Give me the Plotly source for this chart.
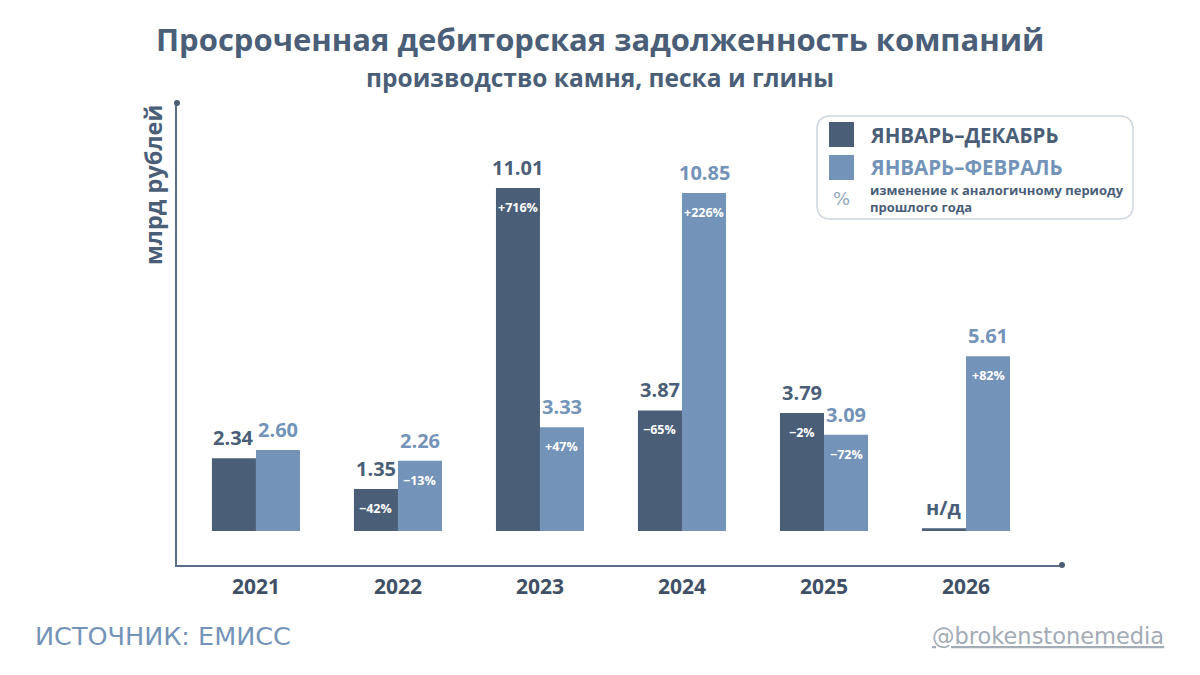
import plotly.graph_objects as go

years = ["2021", "2022", "2023", "2024", "2025", "2026"]
jan_dec = [2.34, 1.35, 11.01, 3.87, 3.79, None]
jan_feb = [2.60, 2.26, 3.33, 10.85, 3.09, 5.61]
jan_dec_chg = [None, "−42%", "+716%", "−65%", "−2%", None]
jan_feb_chg = [None, "−13%", "+47%", "+226%", "−72%", "+82%"]
na_label = "н/д"
na_stub = 0.09  # thin stub drawn for missing value

DARK = "#4a5e78"
LIGHT = "#7393b8"
TXT = "#4a5e78"
FONT = "Open Sans"
FOOT = "DejaVu Sans"

x = list(range(len(years)))
off = 0.155
dark_y = [v if v is not None else na_stub for v in jan_dec]

fig = go.Figure()
fig.add_trace(go.Bar(x=x, y=dark_y, marker_color=DARK, offsetgroup="a", name="ЯНВАРЬ–ДЕКАБРЬ",
                     marker_line_width=0, hoverinfo="skip"))
fig.add_trace(go.Bar(x=x, y=jan_feb, marker_color=LIGHT, offsetgroup="b", name="ЯНВАРЬ–ФЕВРАЛЬ",
                     marker_line_width=0, hoverinfo="skip"))

ann = []
for i, (d, l) in enumerate(zip(jan_dec, jan_feb)):
    dtxt = f"{d:.2f}" if d is not None else na_label
    dy = d if d is not None else na_stub
    ann.append(dict(x=i - off, y=dy, text=f"<b>{dtxt}</b>", showarrow=False, yanchor="bottom",
                    yshift=5, font=dict(family=FONT, size=20, color=DARK)))
    ann.append(dict(x=i + off, y=l, text=f"<b>{l:.2f}</b>", showarrow=False, yanchor="bottom",
                    yshift=5, font=dict(family=FONT, size=20, color=LIGHT)))
    if jan_dec_chg[i]:
        ann.append(dict(x=i - off, y=dy, text=f"<b>{jan_dec_chg[i]}</b>", showarrow=False,
                        yanchor="top", yshift=-9, font=dict(family=FONT, size=12.5, color="white")))
    if jan_feb_chg[i]:
        ann.append(dict(x=i + off, y=l, text=f"<b>{jan_feb_chg[i]}</b>", showarrow=False,
                        yanchor="top", yshift=-9, font=dict(family=FONT, size=12.5, color="white")))

def px(xp):
    return (xp - 177) / 885
def py(yp):
    return (565 - yp) / 462

# titles
ann.append(dict(xref="paper", yref="paper", x=px(600), y=py(39), text="<b>Просроченная дебиторская задолженность компаний</b>",
                showarrow=False, font=dict(family=FONT, size=31, color=TXT), xanchor="center", yanchor="middle"))
ann.append(dict(xref="paper", yref="paper", x=px(600), y=py(77), text="<b>производство камня, песка и глины</b>",
                showarrow=False, font=dict(family=FONT, size=24.5, color=TXT), xanchor="center", yanchor="middle"))
ann.append(dict(xref="paper", yref="paper", x=px(153), y=py(185), text="<b>млрд рублей</b>", textangle=-90,
                showarrow=False, font=dict(family=FONT, size=23.5, color=TXT), xanchor="center", yanchor="middle"))
# legend
ann.append(dict(xref="paper", yref="paper", x=px(868), y=py(135), text="<b>ЯНВАРЬ–ДЕКАБРЬ</b>", showarrow=False,
                font=dict(family=FONT, size=20.5, color=DARK), xanchor="left", yanchor="middle"))
ann.append(dict(xref="paper", yref="paper", x=px(868), y=py(167), text="<b>ЯНВАРЬ–ФЕВРАЛЬ</b>", showarrow=False,
                font=dict(family=FONT, size=20.5, color=LIGHT), xanchor="left", yanchor="middle"))
ann.append(dict(xref="paper", yref="paper", x=px(841), y=py(198), text="%", showarrow=False,
                font=dict(family=FOOT, size=18, color="#8fa6c2"), xanchor="center", yanchor="middle"))
ann.append(dict(xref="paper", yref="paper", x=px(868), y=py(198), text="<b>изменение к аналогичному периоду<br>прошлого года</b>",
                showarrow=False, align="left", font=dict(family=FONT, size=13, color=DARK),
                xanchor="left", yanchor="middle"))
# footer
ann.append(dict(xref="paper", yref="paper", x=px(33), y=py(636), text="ИСТОЧНИК: ЕМИСС", showarrow=False,
                font=dict(family=FOOT, size=25.5, color=LIGHT), xanchor="left", yanchor="middle"))
ann.append(dict(xref="paper", yref="paper", x=px(1166), y=py(636), text="<u>@brokenstonemedia</u>", showarrow=False,
                font=dict(family=FOOT, size=22.5, color="#a3abb6"), xanchor="right", yanchor="middle"))

# legend box path (rounded)
def rrect(x0, y0, x1, y1, r):
    X = lambda v: px(v)
    Y = lambda v: py(v)
    return (f"M {X(x0+r)},{Y(y0)} L {X(x1-r)},{Y(y0)} Q {X(x1)},{Y(y0)} {X(x1)},{Y(y0+r)} "
            f"L {X(x1)},{Y(y1-r)} Q {X(x1)},{Y(y1)} {X(x1-r)},{Y(y1)} L {X(x0+r)},{Y(y1)} "
            f"Q {X(x0)},{Y(y1)} {X(x0)},{Y(y1-r)} L {X(x0)},{Y(y0+r)} Q {X(x0)},{Y(y0)} {X(x0+r)},{Y(y0)} Z")

shapes = [
    dict(type="path", xref="paper", yref="paper", path=rrect(817, 116, 1133, 219, 14),
         line=dict(color="#cdd5df", width=1.5), fillcolor="white", layer="below"),
    dict(type="rect", xref="paper", yref="paper", x0=px(829), x1=px(854), y0=py(122), y1=py(147),
         fillcolor=DARK, line_width=0),
    dict(type="rect", xref="paper", yref="paper", x0=px(829), x1=px(854), y0=py(155), y1=py(180),
         fillcolor=LIGHT, line_width=0),
    dict(type="circle", xref="paper", yref="paper", xsizemode="pixel", ysizemode="pixel",
         xanchor=0, yanchor=1, x0=-3, x1=3, y0=-3, y1=3, fillcolor=DARK, line_width=0),
    dict(type="circle", xref="paper", yref="paper", xsizemode="pixel", ysizemode="pixel",
         xanchor=1, yanchor=0, x0=-3, x1=3, y0=-3, y1=3, fillcolor=DARK, line_width=0),
]

fig.update_layout(
    width=1200, height=675, autosize=False,
    margin=dict(l=177, r=138, t=103, b=110),
    plot_bgcolor="white", paper_bgcolor="white",
    barmode="group", bargap=0.38, bargroupgap=0,
    showlegend=False,
    annotations=ann, shapes=shapes,
    xaxis=dict(range=[-0.556, 5.676], tickmode="array", tickvals=x, ticktext=[f"<b>{y}</b>" for y in years],
               showgrid=False, zeroline=False, showline=True, linecolor="#5a6e88", linewidth=1.5,
               ticks="", tickfont=dict(family=FONT, size=21, color="#3f4f66"), ticklabelstandoff=2),
    yaxis=dict(range=[-1.09, 13.74], showgrid=False, zeroline=False, showline=True, linecolor="#5a6e88",
               linewidth=1.5, showticklabels=False, ticks=""),
)

fig.write_html("out.html")
